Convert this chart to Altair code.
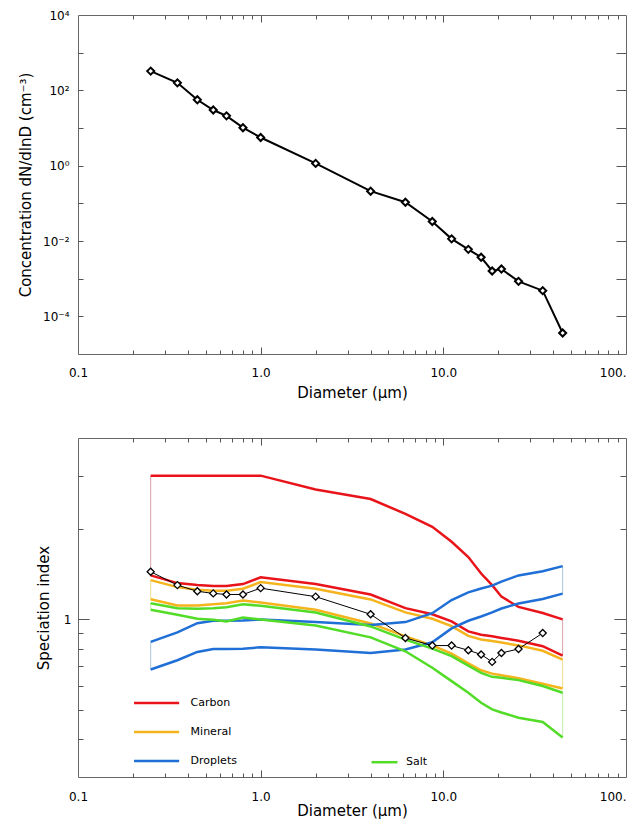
import altair as alt
import pandas as pd

# ---------------- data ----------------
diameter = [0.25, 0.35, 0.45, 0.55, 0.65, 0.8, 1.0, 2.0, 4.0, 6.2, 8.7, 11.1,
            13.7, 16.1, 18.5, 20.8, 25.8, 35.0, 45.0]
concentration = [324, 158, 56, 30, 21, 10.2, 5.6, 1.15, 0.21, 0.107, 0.033, 0.0114,
                 0.0060, 0.0037, 0.0016, 0.0018, 0.00085, 0.00048, 0.000036]
speciation = [1.44, 1.30, 1.24, 1.22, 1.21, 1.21, 1.27, 1.19, 1.04, 0.868, 0.819,
              0.819, 0.79, 0.765, 0.723, 0.774, 0.798, 0.901]

carbon_hi = [3.0, 3.0, 3.0, 3.0, 3.0, 3.0, 3.0, 2.70, 2.51, 2.24, 2.03, 1.81, 1.61,
             1.42, 1.30, 1.19, 1.10, 1.05, 1.00]
carbon_lo = [1.40, 1.32, 1.30, 1.29, 1.29, 1.31, 1.38, 1.31, 1.21, 1.09, 1.04, 0.985,
             0.913, 0.89, 0.879, 0.868, 0.85, 0.815, 0.759]
mineral_hi = [1.35, 1.28, 1.255, 1.245, 1.245, 1.265, 1.33, 1.265, 1.165, 1.055, 1.005,
              0.95, 0.882, 0.858, 0.848, 0.838, 0.82, 0.787, 0.735]
mineral_lo = [1.167, 1.112, 1.112, 1.123, 1.132, 1.155, 1.138, 1.077, 0.97, 0.879, 0.82,
              0.77, 0.715, 0.678, 0.661, 0.653, 0.638, 0.612, 0.59]
droplets_hi = [0.842, 0.906, 0.972, 0.99, 0.99, 0.992, 1.0, 0.98, 0.958, 0.98, 1.049,
               1.16, 1.23, 1.267, 1.295, 1.335, 1.40, 1.445, 1.503]
droplets_lo = [0.682, 0.732, 0.78, 0.798, 0.798, 0.80, 0.808, 0.794, 0.774, 0.795, 0.84,
               0.934, 0.99, 1.023, 1.055, 1.087, 1.13, 1.169, 1.218]
salt_hi = [1.132, 1.09, 1.085, 1.09, 1.098, 1.123, 1.11, 1.055, 0.948, 0.857, 0.80,
           0.755, 0.703, 0.665, 0.645, 0.64, 0.629, 0.601, 0.571]
salt_lo = [1.077, 1.036, 1.005, 0.997, 0.985, 1.015, 1.0, 0.955, 0.872, 0.784, 0.691,
           0.624, 0.571, 0.529, 0.503, 0.491, 0.472, 0.457, 0.406]

species = ["Carbon", "Mineral", "Droplets", "Salt"]
species_colors = ["#e8141a", "#f5b41e", "#1f6fd6", "#52dc28"]
end_colors = ["#d9a2aa", "#f2dc8e", "#a9c4dc", "#bfeeaa"]
bounds = {"Carbon": (carbon_hi, carbon_lo), "Mineral": (mineral_hi, mineral_lo),
          "Droplets": (droplets_hi, droplets_lo), "Salt": (salt_hi, salt_lo)}

x_tick_values = [0.1, 1, 10, 100]
x_tick_labels = ["0.1", "1.0", "10.0", "100."]
x_all_ticks = [m * 10 ** e for e in (-1, 0, 1) for m in range(1, 10)][1:]
top_y_tick_values = [1e-4, 1e-2, 1, 1e2, 1e4]
top_y_tick_labels = ["10⁻⁴", "10⁻²", "10⁰", "10²", "10⁴"]
top_y_all_ticks = [10.0 ** e for e in range(-4, 4)]
bot_y_tick_values = [1]
bot_y_tick_labels = ["1"]
bot_y_all_ticks = [0.4, 0.5, 0.6, 0.7, 0.8, 0.9, 1, 2, 3]

# ---------------- tables ----------------
top_df = pd.DataFrame({"d": diameter, "c": concentration})
spec_df = pd.DataFrame({"d": diameter[:len(speciation)], "s": speciation})
rows = []
ends = []
for name, pale in zip(species, end_colors):
    hi, lo = bounds[name]
    for i, d in enumerate(diameter):
        rows.append({"species": name, "bound": "hi", "d": d, "v": hi[i]})
        rows.append({"species": name, "bound": "lo", "d": d, "v": lo[i]})
    for i in (0, len(diameter) - 1):
        ends.append({"species": name, "d": diameter[i], "hi": hi[i], "lo": lo[i], "pale": pale})
band_df = pd.DataFrame(rows)
end_df = pd.DataFrame(ends)

# ---------------- styling ----------------
FONT = "DejaVu Sans"
AX = "#555555"
W = 548
H_TOP = 339
H_BOT = 339
MAJOR = "abs(log(datum.value)/LN10 - round(log(datum.value)/LN10)) < 0.000001"


def label_expr(values, labels):
    expr = "''"
    for v, l in zip(values, labels):
        expr = f"abs(datum.value - {v!r}) < {v!r} * 0.000001 ? '{l}' : " + expr
    return expr


def label_axis(orient, values, labels, title, pad, title_pad, align=None):
    kw = {}
    if align is not None:
        kw["labelAlign"] = align
    return alt.Axis(orient=orient, values=values, labelExpr=label_expr(values, labels),
                    ticks=False, tickSize=0, domain=False, grid=False, title=title,
                    labelPadding=pad, titlePadding=title_pad, labelOverlap=False,
                    labelFlush=False, **kw)


def tick_axis(orient, offset, values, major, minor):
    return alt.Axis(orient=orient, offset=offset, values=values, labels=False,
                    domain=False, grid=False, ticks=True, tickColor=AX, tickWidth=1,
                    tickSize={"condition": {"test": MAJOR, "value": major}, "value": minor},
                    title=None)


X_ALIGN = {"condition": {"test": "datum.value > 50", "value": "right"}, "value": "center"}

xs = alt.Scale(type="log", domain=[0.1, 100], nice=False)
ys_top = alt.Scale(type="log", domain=[1e-5, 1e4], nice=False)
ys_bot = alt.Scale(type="log", domain=[0.3, 4], nice=False)

x_title = "Diameter (μm)"

# ---------------- top chart ----------------
t_line = alt.Chart(top_df).mark_line(color="black", strokeWidth=2).encode(
    x=alt.X("d:Q", scale=xs, axis=label_axis("bottom", x_tick_values, x_tick_labels,
                                             x_title, 13, 7, X_ALIGN)),
    y=alt.Y("c:Q", scale=ys_top,
            axis=label_axis("left", top_y_tick_values, top_y_tick_labels,
                            "Concentration dN/dlnD (cm⁻³)", 9, 9)),
)
t_pts = alt.Chart(top_df).mark_point(shape="diamond", size=50, filled=True, fill="white",
                                     stroke="black", strokeWidth=2, opacity=1).encode(
    x=alt.X("d:Q", scale=xs, axis=tick_axis("top", -H_TOP, x_all_ticks, 7, 4)),
    y=alt.Y("c:Q", scale=ys_top, axis=tick_axis("right", -W, top_y_all_ticks, 5, 5)),
)
t_ghost = alt.Chart(top_df).mark_point(opacity=0).encode(
    x=alt.X("d:Q", scale=xs, axis=tick_axis("bottom", -H_TOP, x_all_ticks, 7, 4)),
    y=alt.Y("c:Q", scale=ys_top, axis=tick_axis("left", -W, top_y_all_ticks, 10, 10)),
)
top = alt.layer(t_line, t_pts, t_ghost).resolve_axis(
    x="independent", y="independent").properties(width=W, height=H_TOP)

# ---------------- bottom chart ----------------
main_species = species[:3]
b_lines = alt.Chart(band_df).transform_filter(
    alt.FieldOneOfPredicate(field="species", oneOf=main_species)
).mark_line(strokeWidth=2.5).encode(
    x=alt.X("d:Q", scale=xs, axis=label_axis("bottom", x_tick_values, x_tick_labels,
                                             x_title, 14, 1, X_ALIGN)),
    y=alt.Y("v:Q", scale=ys_bot,
            axis=label_axis("left", bot_y_tick_values, bot_y_tick_labels, "Speciation index", 7, 12)),
    color=alt.Color("species:N", sort=main_species,
                    scale=alt.Scale(domain=main_species, range=species_colors[:3]),
                    legend=alt.Legend(orient="none", legendX=62.6, legendY=249, title=None,
                                      symbolType="M-1.53,0H1.53", symbolSize=870,
                                      symbolStrokeWidth=2.5, labelFontSize=11, labelFont=FONT,
                                      labelOffset=18, rowPadding=8, padding=0,
                                      direction="vertical")),
    detail="bound:N",
)
b_salt = alt.Chart(band_df).transform_filter(
    alt.FieldEqualPredicate(field="species", equal="Salt")
).mark_line(strokeWidth=2.5).encode(
    x=alt.X("d:Q", scale=xs, axis=tick_axis("top", -H_BOT, x_all_ticks, 7, 4)),
    y=alt.Y("v:Q", scale=ys_bot, axis=tick_axis("right", -W, bot_y_all_ticks, 11, 5)),
    color=alt.Color("species:N",
                    scale=alt.Scale(domain=["Salt"], range=[species_colors[3]]),
                    legend=alt.Legend(orient="none", legendX=292, legendY=309.7, title=None,
                                      symbolType="M-1,0H1", symbolSize=676,
                                      symbolStrokeWidth=2.5, labelFontSize=11, labelFont=FONT,
                                      labelOffset=7, rowPadding=0, padding=0)),
    detail="bound:N",
)
b_ends = alt.Chart(end_df).mark_rule(strokeWidth=1).encode(
    x=alt.X("d:Q", scale=xs, axis=tick_axis("bottom", -H_BOT, x_all_ticks, 7, 4)),
    y=alt.Y("lo:Q", scale=ys_bot, axis=tick_axis("left", -W, bot_y_all_ticks, 12, 6)),
    y2="hi:Q",
    color=alt.Color("pale:N", scale=None),
)
b_black = alt.Chart(spec_df).mark_line(color="black", strokeWidth=1).encode(
    x=alt.X("d:Q", scale=xs, axis=None),
    y=alt.Y("s:Q", scale=ys_bot, axis=None),
)
b_pts = alt.Chart(spec_df).mark_point(shape="diamond", size=50, filled=True, fill="white",
                                      stroke="black", strokeWidth=1.3, opacity=1).encode(
    x=alt.X("d:Q", scale=xs, axis=None),
    y=alt.Y("s:Q", scale=ys_bot, axis=None),
)
bottom = alt.layer(b_ends, b_lines, b_salt, b_black, b_pts).resolve_scale(
    color="independent").resolve_axis(x="independent", y="independent").properties(
    width=W, height=H_BOT)

chart = alt.vconcat(top, bottom, spacing=36).properties(
    padding={"left": 10, "top": 0, "right": 0, "bottom": 0}
).configure_view(stroke="#666666", strokeWidth=1).configure_axis(
    labelFont=FONT, labelFontSize=12, labelColor="black",
    titleFont=FONT, titleFontSize=15, titleFontWeight="normal", titleColor="black",
).configure_legend(labelColor="black")

chart.save("out.html", embed_options={"renderer": "svg", "actions": False})
